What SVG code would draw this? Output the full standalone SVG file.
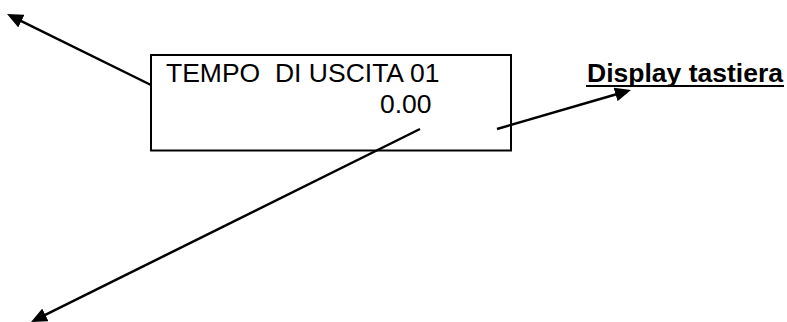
<svg xmlns="http://www.w3.org/2000/svg" width="787" height="322" viewBox="0 0 787 322">
<style>
.t{font-family:"Liberation Sans",Arial,sans-serif;font-size:26.5px;fill:#000;white-space:pre}
.b{font-family:"Liberation Sans",Arial,sans-serif;font-size:26px;font-weight:bold;fill:#000}
.c{stroke:#000;stroke-width:2.5;fill:none;marker-end:url(#ah)}
</style>
<defs>
<marker id="ah" markerUnits="userSpaceOnUse" markerWidth="16" markerHeight="14" viewBox="0 0 16 14" refX="8" refY="7" orient="auto">
<path d="M0,0 L16,7 L0,14 z" fill="#000"/>
</marker>
</defs>
<rect width="787" height="322" fill="#fff"/>
<g id="display">
<rect x="151" y="55" width="360" height="95.5" fill="#fff" stroke="#000" stroke-width="2"/>
<text class="t" x="166" y="82" xml:space="preserve">TEMPO  DI USCITA 01</text>
<text class="t" x="380" y="113">0.00</text>
</g>
<g id="label">
<text class="b" x="587" y="82" textLength="196" lengthAdjust="spacingAndGlyphs">Display tastiera</text>
<line x1="586" y1="86" x2="784" y2="86" stroke="#000" stroke-width="2.2"/>
</g>
<g id="connectors">
<line class="c" x1="151" y1="85" x2="14.2" y2="17.6"/>
<line class="c" x1="497" y1="129" x2="623.3" y2="92.2"/>
<line class="c" x1="420" y1="129" x2="38.2" y2="318.4"/>
</g>
</svg>
